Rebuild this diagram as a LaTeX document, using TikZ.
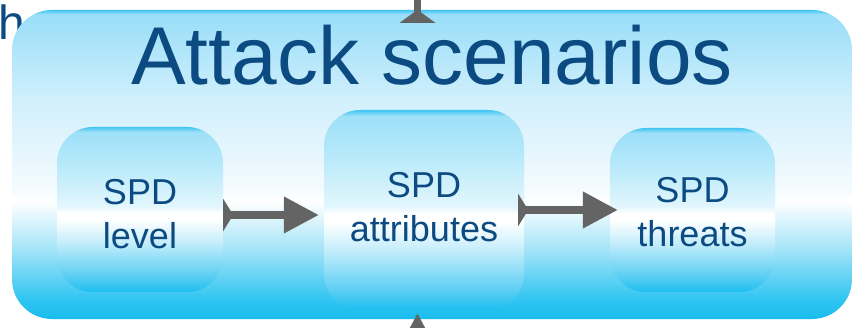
\documentclass[tikz,border=0pt]{standalone}
\usepackage{fontspec}
\setmainfont{Liberation Sans}
\usetikzlibrary{arrows.meta,calc}

\definecolor{navy}{HTML}{0C4A82}
\definecolor{arrowgray}{HTML}{646464}
\definecolor{rimtop}{HTML}{42C5F2}
\definecolor{skyA}{HTML}{9ADEF8}
\definecolor{skyB}{HTML}{A6E2F9}
\definecolor{skyC}{HTML}{D2F0FC}
\definecolor{skyD}{HTML}{F4FBFE}
\definecolor{skyE}{HTML}{A0E3F8}
\definecolor{skyF}{HTML}{2EC4F1}
\definecolor{skyG}{HTML}{1ABCEE}
\definecolor{boxA}{HTML}{9DE0F8}
\definecolor{boxB}{HTML}{B6E9FA}
\definecolor{boxC}{HTML}{E2F6FD}
\definecolor{boxD}{HTML}{C4EDFB}
\definecolor{boxE}{HTML}{5CCFF3}
\definecolor{boxF}{HTML}{1CBEF0}

% glossy vertical fills (0bp = bottom, path spans 25bp..75bp)
\pgfdeclareverticalshading{outerglow}{100bp}{%
  color(0bp)=(skyG); color(25bp)=(skyG); color(28bp)=(skyF);
  color(36bp)=(skyE); color(44bp)=(white); color(46bp)=(skyD);
  color(60bp)=(skyC); color(71bp)=(skyB); color(74.3bp)=(skyA);
  color(75bp)=(rimtop); color(100bp)=(rimtop)}
\pgfdeclareverticalshading{innerglow}{100bp}{%
  color(0bp)=(boxF); color(25bp)=(boxF); color(30bp)=(boxE);
  color(40bp)=(boxD); color(47bp)=(white); color(49bp)=(white);
  color(51bp)=(boxC); color(64bp)=(boxB); color(73.5bp)=(boxA);
  color(75bp)=(rimtop); color(100bp)=(rimtop)}

\tikzset{
  panel/.style={rounded corners=40pt, shading=outerglow, inner sep=0pt,
    minimum width=840pt, minimum height=309pt},
  stagebox/.style={rounded corners=36pt, shading=innerglow, inner sep=0pt},
  lbl/.style={text=navy, font=\fontsize{36}{44}\selectfont, align=center, inner sep=0pt},
  conn/.style={draw=arrowgray, line width=7.5pt,
    {Triangle[reversed,length=10pt,width=32pt]}-{Triangle[length=35pt,width=35pt]}},
  stub/.style={draw=arrowgray, line width=7pt},
}

\begin{document}
\begin{tikzpicture}[x=1pt,y=1pt]
\useasboundingbox (0,0) rectangle (863,327);
\begin{scope}
\clip (0,0) rectangle (863,327);

% stray heading letter at the top-left edge
\node[text=navy, font=\fontsize{48}{50}\selectfont, anchor=base west, inner sep=0pt] (hletter) at (-1.5,287) {h};

% outer panel
\node[panel] (outer) at (432,162.5) {};
\node[text=navy, font=\fontsize{82}{90}\selectfont, anchor=base, inner sep=0pt] (title) at (432,242) {Attack scenarios};

% three stages
\node[stagebox, minimum width=166pt, minimum height=165pt] (b1) at (140,117.5) {};
\node[stagebox, minimum width=200pt, minimum height=200pt] (b2) at (424,117) {};
\node[stagebox, minimum width=165pt, minimum height=164pt] (b3) at (692.5,117) {};

\node[lbl] (t1) at (140,112.5) {SPD\\level};
\node[lbl] (t2) at (424,119.5) {SPD\\attributes};
\node[lbl] (t3) at (692.5,114.5) {SPD\\threats};

% connectors between stages
\draw[conn] ([yshift=-5.5pt]b1.east) -- ([xshift=-5pt,yshift=-5pt]b2.west);
\draw[conn] ([xshift=-6pt]b2.east) -- ([xshift=8pt]b3.west);

% links leaving through the top and arriving from below
\coordinate (upend) at (417.5,345);
\coordinate (dnend) at (417.5,-40);
\draw[stub, {Triangle[reversed,length=13pt,width=35pt]}-] ([xshift=-14.5pt,yshift=-13pt]outer.north) -- (upend);
\draw[stub, -{Triangle[length=35pt,width=35pt]}] (dnend) -- ([xshift=-14.5pt,yshift=6pt]outer.south);
\end{scope}
\end{tikzpicture}
\end{document}
